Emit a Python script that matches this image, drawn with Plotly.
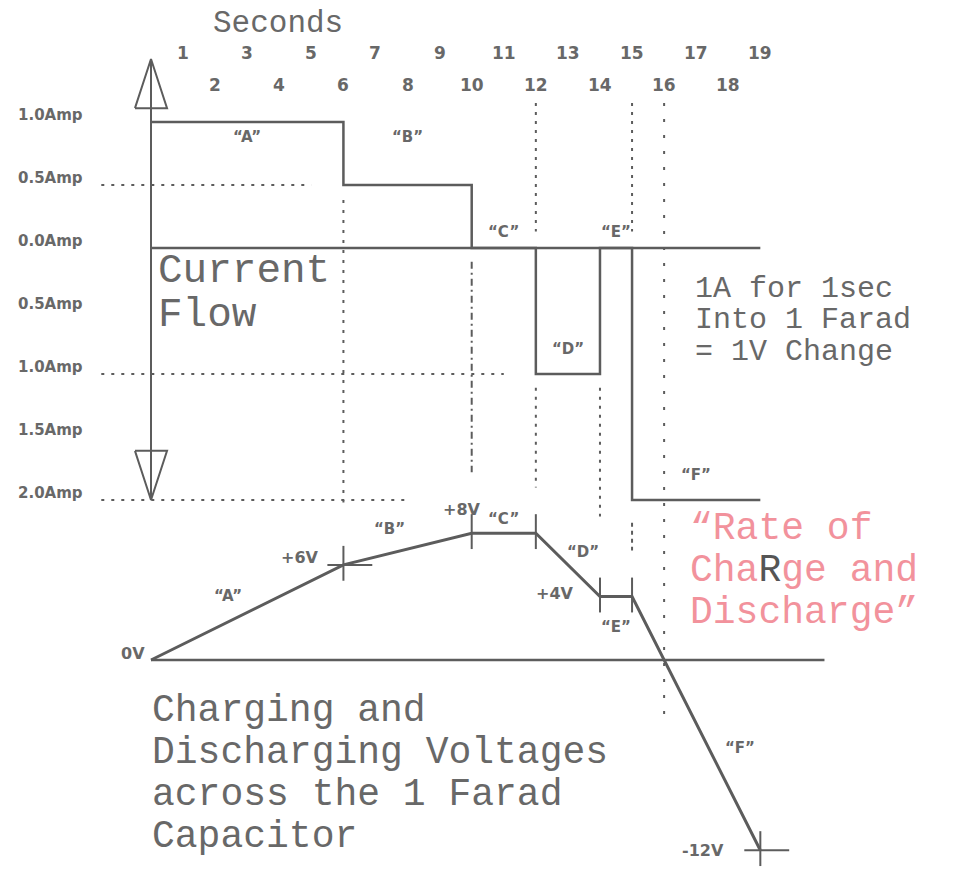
import plotly.graph_objects as go

# --- data -------------------------------------------------------------
# current through the 1 F capacitor, step changes at these seconds
seconds = [0, 6, 10, 12, 14, 15, 19]
current_amps = [1.0, 0.5, 0.0, -1.0, 0.0, -2.0, -2.0]
segments = ["A", "B", "C", "D", "E", "F"]

# resulting capacitor voltage at the same instants
voltage_t = [0, 6, 10, 12, 14, 15, 19]
voltage_v = [0, 6, 8, 8, 4, 4, -12]
voltage_text = ["0V", "+6V", "+8V", "", "+4V", "", "-12V"]

second_ticks = list(range(1, 20))
amp_levels = [1.0, 0.5, 0.0, -0.5, -1.0, -1.5, -2.0]
amp_labels = ["1.0Amp", "0.5Amp", "0.0Amp", "0.5Amp", "1.0Amp", "1.5Amp", "2.0Amp"]

axis_top, axis_bottom = 1.5, -2.0          # current axis arrow ends (A)
guide_levels = [0.5, -1.0, -2.0]           # dotted horizontal guides (A)
guide_ends = [5, 11, 8]                    # where they stop (s)
volt_axis_end = 21                         # end of 0V line (s)

# --- style ------------------------------------------------------------
W, H = 959, 873
GRAY = "#5c5c5c"
TXT = "#686868"
PINK = "#f2929c"
MONO = "Liberation Mono"
SANS = "DejaVu Sans"

# pixel calibration of the scan: x = 151 + 32.07*t,
# current y = 248 - 126*A, voltage y = 660 - 15.85*V
PX_S, X0 = 32.07, 151
PX_A, YA0 = 126, 248
PX_V, YV0 = 15.85, 660
x_range = [-X0 / PX_S, (W - X0) / PX_S]
ya_range = [(YA0 - H) / PX_A, YA0 / PX_A]
yv_range = [(YV0 - H) / PX_V, YV0 / PX_V]

fig = go.Figure()


def seg(x, y, yaxis="y", width=2.5, dash=None, color=GRAY, shape="linear"):
    fig.add_trace(go.Scatter(
        x=x, y=y, yaxis=yaxis, mode="lines", hoverinfo="skip", showlegend=False,
        line=dict(color=color, width=width, dash=dash, shape=shape),
    ))


# current flow graph
seg([0, 0], [axis_top, axis_bottom], width=2)
head = 0.39
seg([-0.5, 0, 0.5, -0.5], [axis_top - head, axis_top, axis_top - head, axis_top - head], width=2)
seg([-0.5, 0, 0.5, -0.5], [axis_bottom + head, axis_bottom, axis_bottom + head, axis_bottom + head], width=2)
seg([0, seconds[-1]], [0, 0])
seg(seconds, current_amps, shape="hv")

for lvl, end in zip(guide_levels, guide_ends):
    seg([-1.55, end], [lvl, lvl], width=2, dash="3px,7px")

# vertical guides (t, from A, to A, dash)
guides = [
    (6, 0.38, -2.02, "3px,7px"),
    (10, -0.11, -1.78, "7px,4px,2px,4px"),
    (12, 1.15, 0.13, "3px,6px"),
    (12, -1.11, -1.9, "3px,6px"),
    (14, -1.11, -2.13, "3px,6px"),
    (15, 1.15, 0.13, "3px,6px"),
    (15, -2.18, -2.4, "4px,4px"),
    (16, 1.15, -3.77, "3px,13px"),
]
for t, a, b, d in guides:
    seg([t, t], [a, b], width=2, dash=d)

# voltage graph
seg([0, volt_axis_end], [0, 0], yaxis="y2")
seg(voltage_t, voltage_v, yaxis="y2", width=3)
tx, ty = [], []
for i in range(1, len(voltage_t)):
    tx += [voltage_t[i], voltage_t[i], None]
    ty += [voltage_v[i] - 1.0, voltage_v[i] + 1.2, None]
for i in (1, len(voltage_t) - 1):
    tx += [voltage_t[i] - 0.5, voltage_t[i] + 0.9, None]
    ty += [voltage_v[i], voltage_v[i], None]
seg(tx, ty, yaxis="y2", width=2)

# --- text -------------------------------------------------------------
ann = []


def px_text(text, x, y, size, family=MONO, color=TXT, xanchor="left", weight="normal"):
    ann.append(dict(text=text, x=x / W, y=1 - y / H, xref="paper", yref="paper",
                    xanchor=xanchor, yanchor="middle", showarrow=False,
                    font=dict(family=family, size=size, color=color, weight=weight)))


px_text("Seconds", 278, 23, 31, xanchor="center")
for s in second_ticks:
    ann.append(dict(text=str(s), x=s, y=1 - (53 if s % 2 else 85) / H, xref="x", yref="paper",
                    showarrow=False, yanchor="middle",
                    font=dict(family=SANS, size=17, color=TXT, weight="bold")))

for lvl, lab in zip(amp_levels, amp_labels):
    ann.append(dict(text=lab, x=16 / W, y=lvl, xref="paper", yref="y", xanchor="left",
                    yanchor="middle", yshift=7, showarrow=False,
                    font=dict(family=SANS, size=15, color=TXT, weight="bold")))

# segment letters on the current graph
for i, name in enumerate(segments):
    mid = (seconds[i] + seconds[i + 1]) / 2
    lvl = current_amps[i]
    y = 0.88 if lvl > 0 else (0.13 if lvl == 0 else lvl + 0.2)
    ann.append(dict(text=f"“{name}”", x=mid, y=y, xref="x", yref="y", showarrow=False,
                    font=dict(family=SANS, size=15, color=TXT, weight="bold")))

# segment letters on the voltage graph
v_shift = [(-19, 16), (-18, 20), (0, 14), (15, 13), (0, -30), (44, -25)]
for i, name in enumerate(segments):
    mt = (voltage_t[i] + voltage_t[i + 1]) / 2
    mv = (voltage_v[i] + voltage_v[i + 1]) / 2
    ann.append(dict(text=f"“{name}”", x=mt, y=mv, xref="x", yref="y2", showarrow=False,
                    xshift=v_shift[i][0], yshift=v_shift[i][1],
                    font=dict(family=SANS, size=15, color=TXT, weight="bold")))

# voltage values
val_shift = [(-18, 7), (-43, 7), (-10, 24), (0, 0), (-45, 3), (0, 0), (-57, 0)]
for t, v, lab, sh in zip(voltage_t, voltage_v, voltage_text, val_shift):
    if lab:
        ann.append(dict(text=lab, x=t, y=v, xref="x", yref="y2", showarrow=False,
                        xshift=sh[0], yshift=sh[1],
                        font=dict(family=SANS, size=16, color=TXT, weight="bold")))

px_text("Current", 156, 271, 41)
px_text("Flow", 156, 315, 41)

px_text("1A for 1sec", 693, 289, 30)
px_text("Into 1 Farad", 693, 320, 30)
px_text("= 1V Change", 693, 352, 30)

px_text("“Rate of", 688, 528, 38, color=PINK)
px_text("Cha<span style='color:#555555'>R</span>ge and", 688, 570, 38, color=PINK)
px_text("Discharge”", 688, 612, 38, color=PINK)

px_text("Charging and", 150, 710, 38)
px_text("Discharging Voltages", 150, 752, 38)
px_text("across the 1 Farad", 150, 794, 38)
px_text("Capacitor", 150, 836, 38)

fig.update_layout(
    width=W, height=H,
    margin=dict(l=0, r=0, t=0, b=0),
    paper_bgcolor="white", plot_bgcolor="white",
    xaxis=dict(range=x_range, visible=False, fixedrange=True),
    yaxis=dict(range=ya_range, visible=False, fixedrange=True),
    yaxis2=dict(range=yv_range, visible=False, overlaying="y", fixedrange=True),
    annotations=ann,
    showlegend=False,
)

# drop the browser's default 8px body margin so the drawing sits at (0, 0)
fig.write_html("out.html", config={"displayModeBar": False},
               post_script="document.body.style.margin='0';")
